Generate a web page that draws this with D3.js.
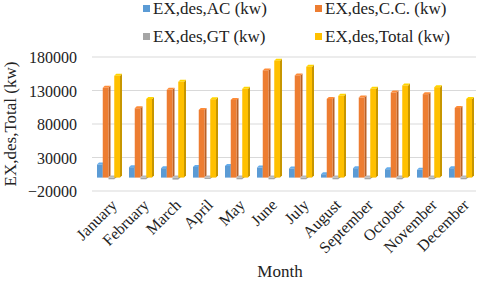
<!DOCTYPE html>
<html><head><meta charset="utf-8">
<script src="https://cdn.jsdelivr.net/npm/d3@7"></script>
<style>body{margin:0;background:#fff}svg{display:block}svg text{font-family:'Liberation Serif','Times New Roman',serif !important}</style>
</head><body>
<svg id="c" width="480" height="281"></svg>
<script>
const months = ["January","February","March","April","May","June","July","August","September","October","November","December"];
const seriesNames = ["EX,des,AC (kw)","EX,des,C.C. (kw)","EX,des,GT (kw)","EX,des,Total (kw)"];
const acValues = [19500,15500,14000,16000,17500,15000,13600,5000,14000,12500,11600,14000];
const ccValues = [134000,103500,131000,101000,116000,160000,152500,117500,119500,127000,124500,104000];
const gtValues = [-2500,-2500,-3000,-2000,-2500,-2500,-2500,-2500,-2500,-2500,-2500,-2500];
const totalValues = [152000,117500,143000,117000,132500,174500,165500,122000,132500,137500,135000,117500];
const yTicks = [-20000,30000,80000,130000,180000];
const colors = ["#5B9BD5","#ED7D31","#A5A5A5","#FFC000"];

const data = [acValues, ccValues, gtValues, totalValues];
const svg = d3.select("#c");
const font = "'Liberation Serif', 'Times New Roman', serif";
const left = 92, right = 476;

const x0 = d3.scaleBand().domain(months).range([left, right]);
const x1 = d3.scaleBand().domain(d3.range(4)).range([5, 28]);
const y = d3.scaleLinear().domain([-20000, 180000]).range([191, 57]);

// gridlines
svg.append("g").selectAll("line").data(yTicks).join("line")
  .attr("x1", left).attr("x2", right)
  .attr("y1", d => y(d)).attr("y2", d => y(d))
  .attr("stroke", "#D9D9D9").attr("stroke-width", 1);

// y tick labels via axis
const yAxis = svg.append("g").attr("transform", `translate(${left - 15},0)`)
  .call(d3.axisLeft(y).tickValues(yTicks).tickSize(0).tickPadding(0).tickFormat(d3.format("d")));
yAxis.attr("font-family", null);
yAxis.select(".domain").remove();
yAxis.selectAll("text").style("font-family", font).attr("font-size", 16).attr("fill", "#222").attr("dy", "0.35em");

// bars (pseudo 3D)
const dx = 2, dy = -2;
const groups = svg.append("g").selectAll("g").data(months).join("g")
  .attr("transform", d => `translate(${x0(d)},0)`);
groups.each(function(m, mi) {
  const g = d3.select(this);
  for (let s = 0; s < 4; s++) {
    const v = data[s][mi];
    const bx = x1(s), bw = x1.bandwidth();
    const yTop = Math.min(y(v), y(0)), yBot = Math.max(y(v), y(0));
    const c = d3.color(colors[s]);
    g.append("path")
      .attr("d", `M${bx+bw},${yTop} L${bx+bw+dx},${yTop+dy} L${bx+bw+dx},${yBot+dy} L${bx+bw},${yBot} Z`)
      .attr("fill", c.darker(0.7));
    g.append("path")
      .attr("d", `M${bx},${yTop} L${bx+dx},${yTop+dy} L${bx+bw+dx},${yTop+dy} L${bx+bw},${yTop} Z`)
      .attr("fill", c.brighter(0.3));
    g.append("rect").attr("x", bx).attr("y", yTop).attr("width", bw).attr("height", Math.max(0.5, yBot - yTop))
      .attr("fill", colors[s]);
  }
});

// x labels
const xAxis = svg.append("g").attr("transform", "translate(0,196)")
  .call(d3.axisBottom(x0).tickSize(0).tickPadding(0));
xAxis.attr("font-family", null);
xAxis.select(".domain").remove();
xAxis.selectAll("text")
  .style("font-family", font).attr("font-size", 16).attr("fill", "#222")
  .attr("text-anchor", "end")
  .attr("transform", "translate(6,6) rotate(-45)")
  .attr("dy", "0.35em").attr("y", 0).attr("x", 0);

// axis titles
svg.append("text").attr("x", 280).attr("y", 277).attr("text-anchor", "middle")
  .style("font-family", font).attr("font-size", 17).attr("fill", "#222").text("Month");
svg.append("text").attr("transform", "translate(16,124) rotate(-90)").attr("text-anchor", "middle")
  .style("font-family", font).attr("font-size", 17).attr("fill", "#222").text("EX,des,Total (kw)");

// legend
const legPos = [[143, 8.5], [315, 8.5], [143, 36.5], [315, 36.5]];
const leg = svg.append("g").selectAll("g").data(seriesNames).join("g")
  .attr("transform", (d, i) => `translate(${legPos[i][0]},${legPos[i][1]})`);
leg.append("rect").attr("x", 0).attr("y", -3.5).attr("width", 7).attr("height", 7).attr("fill", (d, i) => colors[i]);
leg.append("text").attr("x", 10).attr("y", 0).attr("dy", "0.35em")
  .style("font-family", font).attr("font-size", 17).attr("fill", "#222").text(d => d);
</script>
</body></html>
